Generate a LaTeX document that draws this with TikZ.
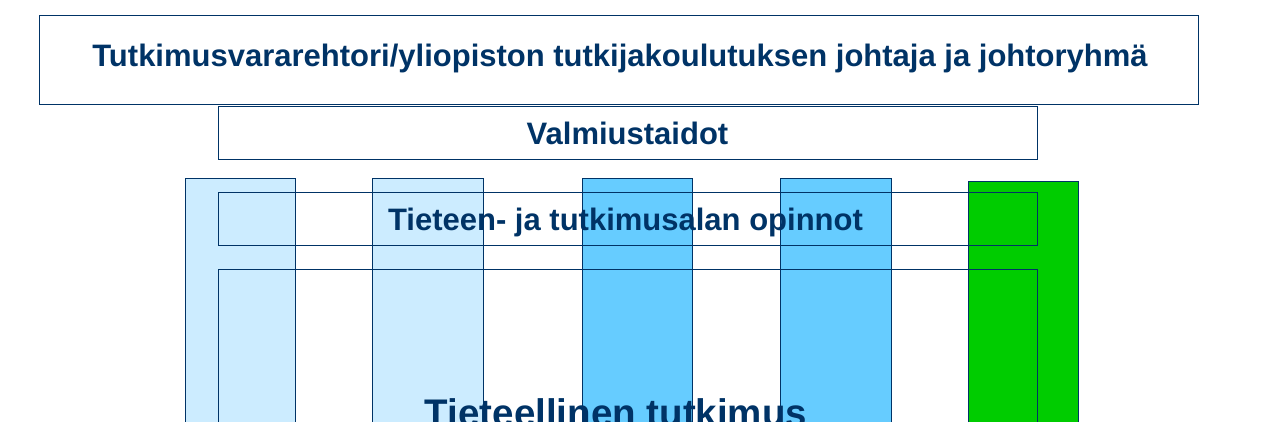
\documentclass[tikz,border=0pt]{standalone}
\usepackage{fontspec}
\setmainfont{Liberation Sans}
\definecolor{dkblue}{HTML}{003366}
\definecolor{ltblue}{HTML}{CCECFF}
\definecolor{mdblue}{HTML}{66CCFF}
\definecolor{grn}{HTML}{00CC00}
\begin{document}
\begin{tikzpicture}[x=1pt,y=-1pt,
  col/.style={draw=dkblue,line width=0.9pt},
  hbox/.style={draw=dkblue,line width=0.9pt},
  lbl/.style={text=dkblue,inner sep=0pt,anchor=base}]
\useasboundingbox (0,0) rectangle (1262,422);
\clip (0,0) rectangle (1262,422);
% columns
\filldraw[col,fill=ltblue] (185,178) rectangle (295,440);
\filldraw[col,fill=ltblue] (372,178) rectangle (483,440);
\filldraw[col,fill=mdblue] (582,178) rectangle (692,440);
\filldraw[col,fill=mdblue] (780,178) rectangle (891,440);
\filldraw[col,fill=grn] (968,181) rectangle (1078,440);
% horizontal boxes
\draw[hbox] (39,15) rectangle (1198,104);
\draw[hbox] (218,106) rectangle (1037,159);
\draw[hbox] (218,192) rectangle (1037,245);
\draw[hbox] (218,269) rectangle (1037,440);
% labels
\node[lbl,font=\fontsize{31}{33}\selectfont\bfseries] (t1) at (620,67) {Tutkimusvararehtori/yliopiston tutkijakoulutuksen johtaja ja johtoryhmä};
\node[lbl,font=\fontsize{31}{33}\selectfont\bfseries] (t2) at (627.5,145) {Valmiustaidot};
\node[lbl,font=\fontsize{31}{33}\selectfont\bfseries] (t3) at (625.5,230.5) {Tieteen- ja tutkimusalan opinnot};
\node[lbl,font=\fontsize{38.5}{40}\selectfont\bfseries] (t4) at (616,426) {Tieteellinen tutkimus};
\end{tikzpicture}
\end{document}
